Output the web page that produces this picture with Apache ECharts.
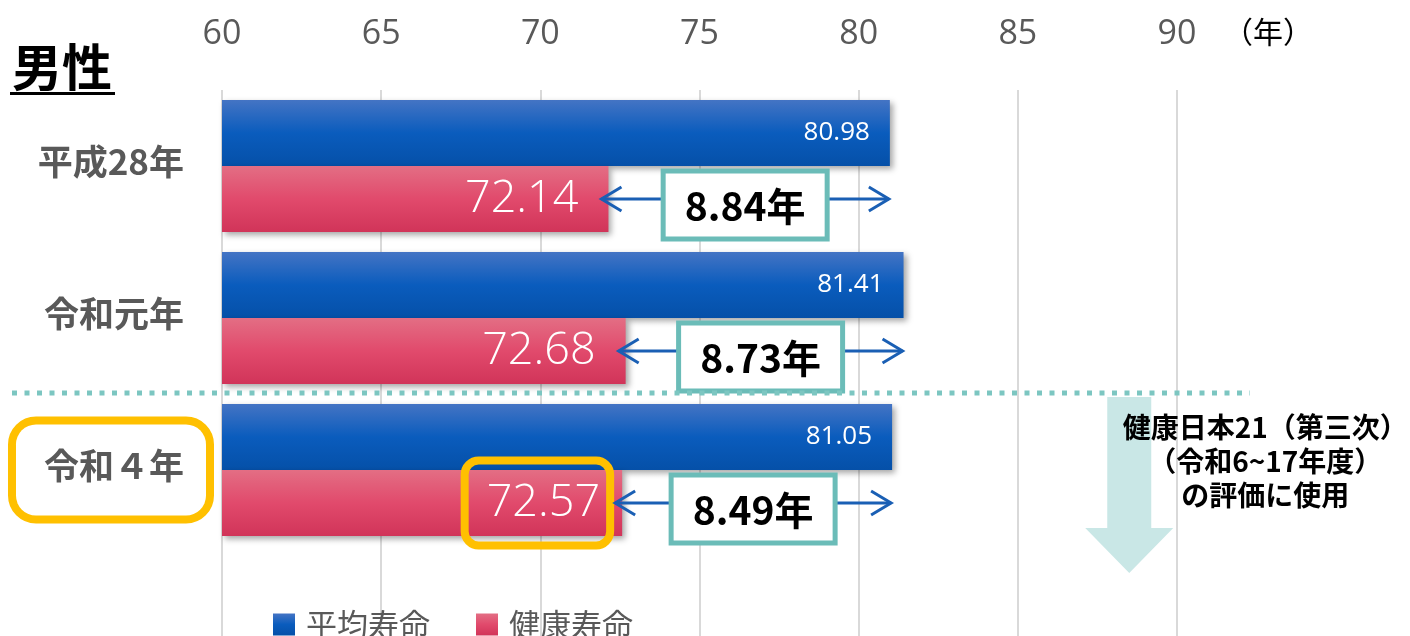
<!DOCTYPE html>
<html><head><meta charset="utf-8">
<script src="https://cdn.jsdelivr.net/npm/echarts@6/dist/echarts.min.js"></script>
<style>html,body{margin:0;padding:0;background:#fff}#c{width:1410px;height:636px}</style>
</head><body><div id="c"></div>
<script>
const categories = ['平成28年', '令和元年', '令和４年'];
const lifeExpectancy = [80.98, 81.41, 81.05];
const healthyLife = [72.14, 72.68, 72.57];
const gapLabels = ['8.84年', '8.73年', '8.49年'];
const seriesNames = ['平均寿命', '健康寿命'];
const axisMin = 60, axisMax = 90, axisStep = 5;
const axisUnit = '（年）';
const titleText = '男性';
const noteLines = ['健康日本21（第三次）', '（令和6~17年度）', 'の評価に使用'];
const highlightIndex = 2;

const JP = '"Noto Sans CJK JP", "Noto Sans", sans-serif';
const NUM = '"Open Sans", "Noto Sans", sans-serif';

const blueGrad = new echarts.graphic.LinearGradient(0, 0, 0, 1, [
  {offset: 0, color: '#4474c4'}, {offset: 0.5, color: '#0a5cbd'}, {offset: 1, color: '#0550a8'}]);
const pinkGrad = new echarts.graphic.LinearGradient(0, 0, 0, 1, [
  {offset: 0, color: '#e36e84'}, {offset: 0.5, color: '#e14a6c'}, {offset: 1, color: '#d13459'}]);

const chart = echarts.init(document.getElementById('c'), null, {renderer: 'canvas'});

const BAR_W = 66;

const option = {
  animation: false,
  backgroundColor: '#fff',
  grid: [
    {left: 222, right: 233, top: 90, height: 456, containLabel: false},
    {left: 222, right: 233, top: 90, bottom: 0, containLabel: false}
  ],
  xAxis: [
    {type: 'value', gridIndex: 0, position: 'top', min: axisMin, max: axisMax, interval: axisStep,
     axisLine: {show: false}, axisTick: {show: false}, splitLine: {show: false},
     axisLabel: {color: '#595959', fontSize: 34, fontFamily: NUM, margin: 39}},
    {type: 'value', gridIndex: 1, position: 'top', min: axisMin, max: axisMax, interval: axisStep,
     axisLine: {show: false}, axisTick: {show: false}, axisLabel: {show: false},
     splitLine: {show: true, lineStyle: {color: '#d9d9d9', width: 2}}}
  ],
  yAxis: [
    {type: 'category', gridIndex: 0, data: categories, inverse: true,
     axisLine: {show: false}, axisTick: {show: false}, splitLine: {show: false},
     axisLabel: {
       margin: 16,
       formatter: (v, i) => (i === highlightIndex ? '{hl|' + v + '}' : '{n|' + v + '}'),
       rich: {
         n: {color: '#595959', fontSize: 35, fontWeight: 'bold', fontFamily: JP,
             padding: [24, 22, 32, 28], borderWidth: 8, borderColor: 'rgba(0,0,0,0)'},
         hl: {color: '#595959', fontSize: 35, fontWeight: 'bold', fontFamily: JP,
              padding: [24, 22, 32, 28], borderWidth: 8, borderColor: '#FFC000',
              borderRadius: 20, backgroundColor: '#fff'}
       }
     }},
    {type: 'value', gridIndex: 1, min: 0, max: 1, show: false}
  ],
  legend: {
    data: seriesNames, left: 268, top: 604, itemWidth: 22, itemHeight: 22, itemGap: 46,
    icon: 'rect',
    textStyle: {color: '#595959', fontSize: 31, fontFamily: JP, padding: [0, 0, 0, 6]}
  },
  series: [
    {name: seriesNames[0], type: 'bar', xAxisIndex: 0, yAxisIndex: 0, data: lifeExpectancy,
     barWidth: BAR_W, barGap: '0%',
     itemStyle: {color: blueGrad, shadowBlur: 6, shadowColor: 'rgba(0,0,0,0.35)', shadowOffsetX: 3, shadowOffsetY: 3},
     label: {show: true, position: 'insideRight', distance: 20, color: '#fff', fontSize: 26, fontFamily: NUM,
             formatter: p => p.value.toFixed(2)}},
    {name: seriesNames[1], type: 'bar', xAxisIndex: 0, yAxisIndex: 0, data: healthyLife,
     barWidth: BAR_W, barGap: '0%',
     itemStyle: {color: pinkGrad, shadowBlur: 6, shadowColor: 'rgba(0,0,0,0.35)', shadowOffsetX: 3, shadowOffsetY: 3},
     label: {show: true, position: 'insideRight', distance: 12,
             formatter: p => (p.dataIndex === highlightIndex ? '{hl|' : '{n|') + p.value.toFixed(2) + '}',
             rich: {
               n: {color: '#fff', fontSize: 45, fontWeight: 300, fontFamily: NUM, padding: [20, 18, 20, 18],
                   borderWidth: 8, borderColor: 'rgba(0,0,0,0)'},
               hl: {color: '#fff', fontSize: 45, fontWeight: 300, fontFamily: NUM, padding: [20, 10, 20, 22],
                    borderWidth: 8, borderColor: '#FFC000', borderRadius: 14}
             }}},
    {type: 'custom', xAxisIndex: 0, yAxisIndex: 0, z: 5, silent: true,
     data: healthyLife.map((h, i) => [i, h, lifeExpectancy[i]]),
     encode: {y: 0, x: [1, 2]},
     renderItem: (params, api) => {
       const i = params.dataIndex;
       const cat = api.value(0);
       const p1 = api.coord([api.value(1), cat]);
       const p2 = api.coord([api.value(2), cat]);
       const y = p1[1] + BAR_W / 2;
       const x1 = p1[0] - 7, x2 = p2[0] - 1;
       const mid = (x1 + x2) / 2;
       const bw = 164, bh = 68, al = 20, ah = 12;
       const ls = {stroke: '#1a5fb4', lineWidth: 3, fill: null};
       return {type: 'group', children: [
         {type: 'line', shape: {x1: x1, y1: y, x2: x2, y2: y}, style: ls},
         {type: 'polyline', shape: {points: [[x1 + al, y - ah], [x1, y], [x1 + al, y + ah]]}, style: ls},
         {type: 'polyline', shape: {points: [[x2 - al, y - ah], [x2, y], [x2 - al, y + ah]]}, style: ls},
         {type: 'rect', shape: {x: mid - bw / 2, y: y + 6 - bh / 2, width: bw, height: bh},
          style: {fill: '#fff', stroke: '#6bbcb8', lineWidth: 5}},
         {type: 'text', style: {text: gapLabels[i], x: mid, y: y + 7, align: 'center', verticalAlign: 'middle',
          fontSize: 39, fontWeight: 'bold', fontFamily: JP, fill: '#000'}}
       ]};
     }}
  ]
};
chart.setOption(option);

// decorations positioned from the axes
const yc1 = chart.convertToPixel({yAxisIndex: 0}, categories[1]);
const yc2 = chart.convertToPixel({yAxisIndex: 0}, categories[2]);
const sepY = (yc1 + yc2) / 2 - 1;
const arrowX = chart.convertToPixel({xAxisIndex: 0}, 88.5);
const unitX = chart.convertToPixel({xAxisIndex: 0}, axisMax) + 46;
const arrowTop = sepY + 4;
const pts = [[arrowX - 22, arrowTop], [arrowX + 22, arrowTop], [arrowX + 22, arrowTop + 131], [arrowX + 44, arrowTop + 131],
             [arrowX, arrowTop + 176], [arrowX - 44, arrowTop + 131], [arrowX - 22, arrowTop + 131]];
chart.setOption({
  graphic: [
    {type: 'text', left: 12, top: 42, style: {text: titleText, fontSize: 50, fontWeight: 'bold', fontFamily: JP, fill: '#000'}},
    {type: 'rect', shape: {x: 10, y: 92, width: 105, height: 3}, style: {fill: '#000'}},
    {type: 'text', style: {text: axisUnit, x: unitX, y: 32, align: 'left', verticalAlign: 'middle',
     fontSize: 30, fontFamily: JP, fill: '#000'}},
    {type: 'line', shape: {x1: 12, y1: sepY, x2: 1250, y2: sepY},
     style: {stroke: '#7cc6c1', lineWidth: 5, lineDash: [5, 7.5]}, z: 10},
    {type: 'polygon', shape: {points: pts}, style: {fill: '#c9e7e6'}, z: 1},
    {type: 'text', z: 12, style: {text: noteLines.join('\n'), x: arrowX + 136, y: arrowTop + 13, align: 'center',
     verticalAlign: 'top', fontSize: 28, fontWeight: 'bold', lineHeight: 34, fontFamily: JP, fill: '#000'}}
  ]
});
</script></body></html>
